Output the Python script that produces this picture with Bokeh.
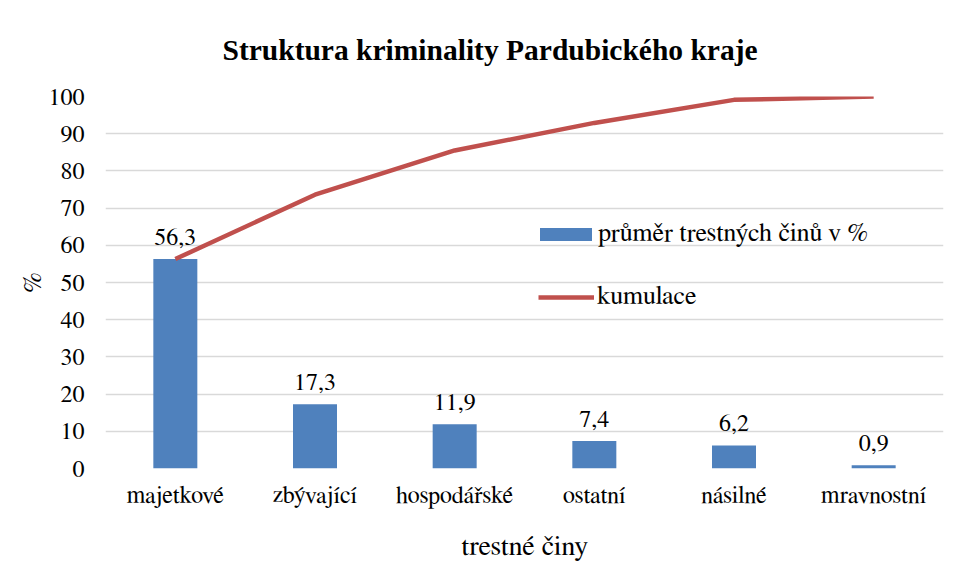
from bokeh.plotting import figure
from bokeh.models import ColumnDataSource, Range1d, Legend, LegendItem, Title
from bokeh.embed import file_html
from bokeh.resources import INLINE

categories = ["majetkové", "zbývající", "hospodářské", "ostatní", "násilné", "mravnostní"]
share = [56.3, 17.3, 11.9, 7.4, 6.2, 0.9]
cumulative = [56.3, 73.6, 85.5, 92.9, 99.1, 100.0]
labels = [f"{v:.1f}".replace(".", ",") for v in share]
y_ticks = list(range(0, 101, 10))

SERIF = "FreeSerif"
BLUE = "#4F81BD"
RED = "#C0504D"
GRID = "#D9D9D9"

src = ColumnDataSource(dict(cat=categories, share=share, cum=cumulative, lab=labels))

p = figure(x_range=categories, y_range=Range1d(0, 100), width=947, height=570,
           output_backend="svg", toolbar_location=None,
           min_border_left=105, min_border_right=4, min_border_top=96, min_border_bottom=102)
p.x_range.range_padding = 0
p.outline_line_color = None
p.background_fill_color = "white"
p.border_fill_color = "white"

bars = p.vbar(x="cat", top="share", width=0.315, source=src, color=BLUE, line_color=None)
line = p.line(x="cat", y="cum", source=src, line_color=RED, line_width=4.5)
p.text(x="cat", y="share", text="lab", source=src, text_align="center",
       text_baseline="alphabetic", y_offset=-22, text_font_size="24px",
       text_font={"value": SERIF}, text_color="black")

p.title = Title(text="Struktura kriminality Pardubického kraje", align="left", offset=117,
                text_font="Liberation Serif", text_font_size="29.5px", text_font_style="bold",
                text_color="black", standoff=61)

p.xgrid.grid_line_color = None
p.ygrid.grid_line_color = GRID
p.ygrid.grid_line_width = 1.5
p.yaxis.ticker = y_ticks

for ax in (p.xaxis[0], p.yaxis[0]):
    ax.axis_line_color = None
    ax.major_tick_line_color = None
    ax.minor_tick_line_color = None
    ax.major_label_text_color = "black"
    ax.major_label_text_font = SERIF
    ax.major_label_text_font_size = "24px"
    ax.axis_label_text_font = SERIF
    ax.axis_label_text_font_style = "normal"
    ax.axis_label_text_color = "black"

p.xaxis.major_label_standoff = 9
p.xaxis.axis_label = "trestné činy"
p.xaxis.axis_label_text_font_size = "28px"
p.xaxis.axis_label_standoff = 22
p.yaxis.major_label_standoff = 15
p.yaxis.axis_label = "%"
p.yaxis.axis_label_text_font_size = "26px"
p.yaxis.axis_label_standoff = 0

leg_common = dict(orientation="vertical", label_text_color="black", label_text_font_size="26px",
                  label_text_font=SERIF, padding=0, margin=0, spacing=0,
                  background_fill_alpha=0, border_line_color=None)
legend_bar = Legend(items=[LegendItem(label="průměr trestných činů v %", renderers=[bars])],
                    location=(428, 220), glyph_width=65, glyph_height=16, label_standoff=0,
                    **leg_common)
legend_line = Legend(items=[LegendItem(label="kumulace", renderers=[line])],
                     location=(433, 157), glyph_width=56, glyph_height=16, label_standoff=3,
                     **leg_common)
p.add_layout(legend_bar)
p.add_layout(legend_line)

open("out.html", "w").write(file_html(p, INLINE))
